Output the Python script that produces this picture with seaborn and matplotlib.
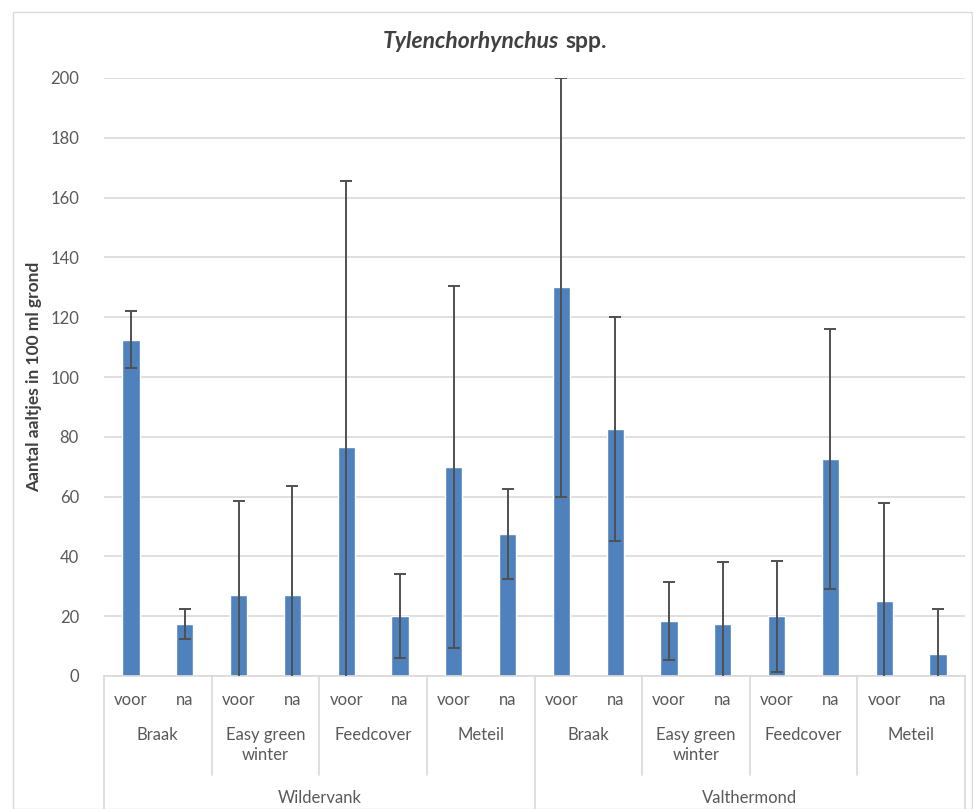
import matplotlib
matplotlib.use("Agg")
import matplotlib.pyplot as plt
import matplotlib.transforms as mtransforms
from matplotlib.lines import Line2D
from matplotlib.patches import Rectangle
import seaborn as sns
import pandas as pd
import numpy as np

sites = ["Wildervank", "Valthermond"]
treatments = ["Braak", "Easy green\nwinter", "Feedcover", "Meteil"]
moments = ["voor", "na"]

# Means per site, treatment, moment (voor, na)
wildervank_means = [112.5, 17.5, 27.0, 27.0, 76.5, 20.0, 70.0, 47.5]
valthermond_means = [130.0, 82.5, 18.5, 17.5, 20.0, 72.5, 25.0, 7.5]
# Error (symmetric +/-)
wildervank_err = [9.5, 5.0, 31.5, 36.5, 89.0, 14.0, 60.5, 15.0]
valthermond_err = [70.0, 37.5, 13.0, 20.5, 18.5, 43.5, 33.0, 15.0]

means = wildervank_means + valthermond_means
errs = wildervank_err + valthermond_err

rows = []
for si, s in enumerate(sites):
    for ti, t in enumerate(treatments):
        for mi, m in enumerate(moments):
            k = si * 8 + ti * 2 + mi
            rows.append({"key": f"{s}|{t}|{m}", "site": s, "treat": t,
                         "moment": m, "value": means[k], "err": errs[k]})
df = pd.DataFrame(rows)

sns.set_theme(style="white")
plt.rcParams["font.family"] = ["Lato", "DejaVu Sans"]

fig = plt.figure(figsize=(9.73, 8.09), dpi=100)
ax = fig.add_axes([104 / 973, (809 - 676) / 809, (965 - 104) / 973, (676 - 78) / 809])

bar_color = "#4F81BD"
sns.barplot(data=df, x="key", y="value", order=list(df["key"]), color=bar_color,
            width=0.32, errorbar=None, saturation=1, ax=ax)

xs = np.arange(len(df))
ax.errorbar(xs, df["value"], yerr=df["err"], fmt="none", ecolor="#505050",
            elinewidth=1.4, capsize=4, capthick=1.4, zorder=5)

ax.set_ylim(0, 200)
ax.set_xlim(-0.5, len(df) - 0.5)
ax.set_yticks(range(0, 201, 20))
ax.yaxis.grid(True, color="#D9D9D9", linewidth=1.2)
ax.set_axisbelow(True)
for sp in ["top", "right", "left"]:
    ax.spines[sp].set_visible(False)
ax.spines["bottom"].set_color("#D9D9D9")
ax.spines["bottom"].set_linewidth(1.2)
ax.tick_params(axis="y", length=0, labelsize=12, labelcolor="#595959", pad=18)
ax.set_xticks([])
ax.set_xlabel("")
ax.set_ylabel("Aantal aaltjes in 100 ml grond", fontsize=12.5, fontweight="bold",
              color="#404040")
ax.yaxis.set_label_coords((42 - 104) / 861, 0.5)

trans = mtransforms.blended_transform_factory(ax.transData, ax.transAxes)
px = 1 / 598.0
lab_col = "#595959"
fs = 12

# moment labels
for i, r in df.iterrows():
    ax.text(i, -24 * px, r["moment"], transform=trans, ha="center", va="center",
            fontsize=fs, color=lab_col)

# treatment labels
for si in range(len(sites)):
    for ti, t in enumerate(treatments):
        c = si * 8 + ti * 2 + 0.5
        ax.text(c, -51 * px, t, transform=trans, ha="center", va="top",
                fontsize=fs, color=lab_col, linespacing=1.3)

# site labels
for si, s in enumerate(sites):
    c = si * 8 + 3.5
    ax.text(c, -122 * px, s, transform=trans, ha="center", va="center",
            fontsize=fs, color=lab_col)

# separator lines
line_col = "#D9D9D9"
for k in range(0, 17, 2):
    x = k - 0.5
    if k % 8 == 0:
        y1 = -133 * px
    else:
        y1 = -99 * px
    ax.add_line(Line2D([x, x], [0, y1], transform=trans, color=line_col,
                       linewidth=1.2, clip_on=False))

# title (two styles, centred as a group)
ty = 1 - 42 / 809
t1 = fig.text(0, ty, "Tylenchorhynchus", ha="left", va="center",
              fontsize=16.5, fontweight="bold", fontstyle="italic", color="#404040")
t2 = fig.text(0, ty, "spp.", ha="left", va="center",
              fontsize=16.5, fontweight="bold", color="#404040")
fig.canvas.draw()
r = fig.canvas.get_renderer()
w1 = t1.get_window_extent(r).width
w2 = t2.get_window_extent(r).width
gap = 7
total = w1 + gap + w2
x0 = 495 - total / 2
t1.set_x(x0 / 973)
t2.set_x((x0 + w1 + gap) / 973)

# chart border
fig.patches.append(Rectangle((13 / 973, 0), (972 - 13) / 973, (809 - 12) / 809,
                             transform=fig.transFigure, fill=False,
                             edgecolor="#D9D9D9", linewidth=1.0))

fig.savefig("out.png", dpi=100)
